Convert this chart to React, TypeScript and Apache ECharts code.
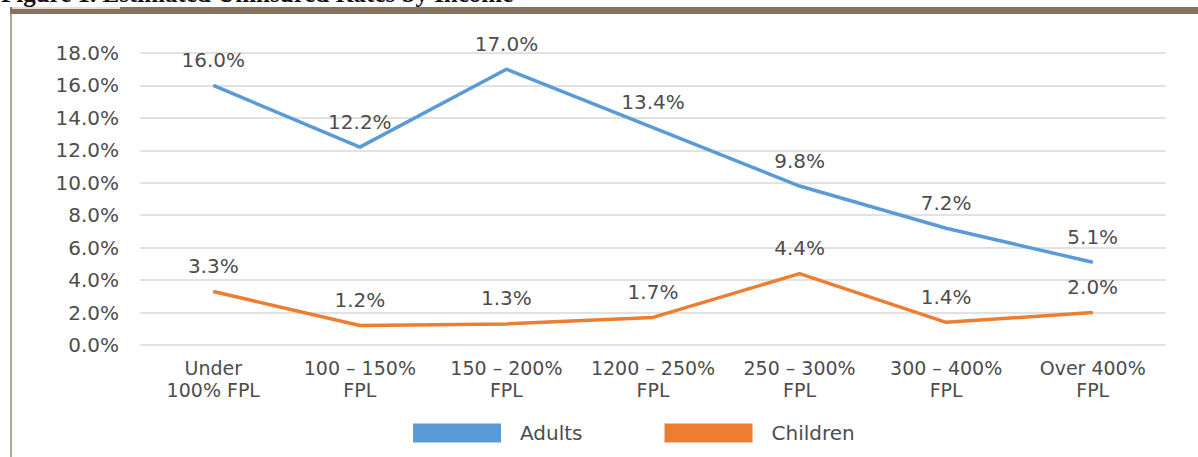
import React, { useEffect, useRef } from "react";
import * as echarts from "echarts";

// Income brackets (share of the federal poverty level)
const categories = [
  "Under\n100% FPL",
  "100 – 150%\nFPL",
  "150 – 200%\nFPL",
  "1200 – 250%\nFPL",
  "250 – 300%\nFPL",
  "300 – 400%\nFPL",
  "Over 400%\nFPL",
];

// Uninsured rates, in percent
const adults = [16.0, 12.2, 17.0, 13.4, 9.8, 7.2, 5.1];
const children = [3.3, 1.2, 1.3, 1.7, 4.4, 1.4, 2.0];

const yMin = 0;
const yMax = 18;
const yStep = 2;

const titleText = "Figure 1. Estimated Uninsured Rates by Income";

const TEXT = "#4d4d4d";
const FONT = "'DejaVu Sans', Verdana, sans-serif";

export default function App() {
  const ref = useRef<HTMLDivElement>(null);

  useEffect(() => {
    if (!ref.current) return;
    const chart = echarts.init(ref.current, undefined, { renderer: "svg" });

    const valueLabel = {
      show: true,
      position: "top" as const,
      distance: 15,
      color: TEXT,
      fontFamily: FONT,
      fontSize: 20,
      formatter: (p: any) => `${Number(p.value).toFixed(1)}%`,
    };

    chart.setOption({
      animation: false,
      backgroundColor: "#ffffff",
      graphic: [
        {
          type: "text",
          left: 1,
          top: -19,
          style: {
            text: titleText,
            font: "bold 25px 'Liberation Serif', 'Times New Roman', serif",
            fill: "#111111",
          },
        },
        {
          type: "rect",
          shape: { x: 10, y: 7, width: 1188, height: 7 },
          style: { fill: "#86735f" },
        },
        {
          type: "rect",
          shape: { x: 12, y: 7, width: 108, height: 2 },
          style: { fill: "#e6ddd0" },
        },
        {
          type: "rect",
          shape: { x: 10, y: 14, width: 2, height: 443 },
          style: { fill: "#b3a797" },
        },
      ],
      grid: { left: 140, right: 32, top: 53, bottom: 112 },
      legend: {
        left: 413,
        top: 423,
        padding: 0,
        icon: "rect",
        itemWidth: 88,
        itemHeight: 19,
        itemGap: 82,
        textStyle: {
          color: TEXT,
          fontFamily: FONT,
          fontSize: 20,
          padding: [0, 0, 0, 14],
        },
        data: ["Adults", "Children"],
      },
      xAxis: {
        type: "category",
        data: categories,
        boundaryGap: true,
        axisLine: { show: false },
        axisTick: { show: false },
        axisLabel: {
          color: TEXT,
          fontFamily: FONT,
          fontSize: 19,
          lineHeight: 22,
          margin: 12,
          interval: 0,
        },
      },
      yAxis: {
        type: "value",
        min: yMin,
        max: yMax,
        interval: yStep,
        axisLine: { show: false },
        axisTick: { show: false },
        axisLabel: {
          color: TEXT,
          fontFamily: FONT,
          fontSize: 20,
          margin: 21,
          formatter: (v: number) => `${v.toFixed(1)}%`,
        },
        splitLine: { lineStyle: { color: "#d9d9d9", width: 1.5 } },
      },
      series: [
        {
          name: "Adults",
          type: "line",
          data: adults,
          symbol: "circle",
          symbolSize: 1,
          showSymbol: true,
          lineStyle: { color: "#5b9bd5", width: 3.5 },
          itemStyle: { color: "#5b9bd5" },
          label: valueLabel,
        },
        {
          name: "Children",
          type: "line",
          data: children,
          symbol: "circle",
          symbolSize: 1,
          showSymbol: true,
          lineStyle: { color: "#ed7d31", width: 3.5 },
          itemStyle: { color: "#ed7d31" },
          label: valueLabel,
        },
      ],
    });

    return () => chart.dispose();
  }, []);

  return (
    <div
      ref={ref}
      style={{ position: "fixed", left: 0, top: 0, width: 1198, height: 457 }}
    />
  );
}
